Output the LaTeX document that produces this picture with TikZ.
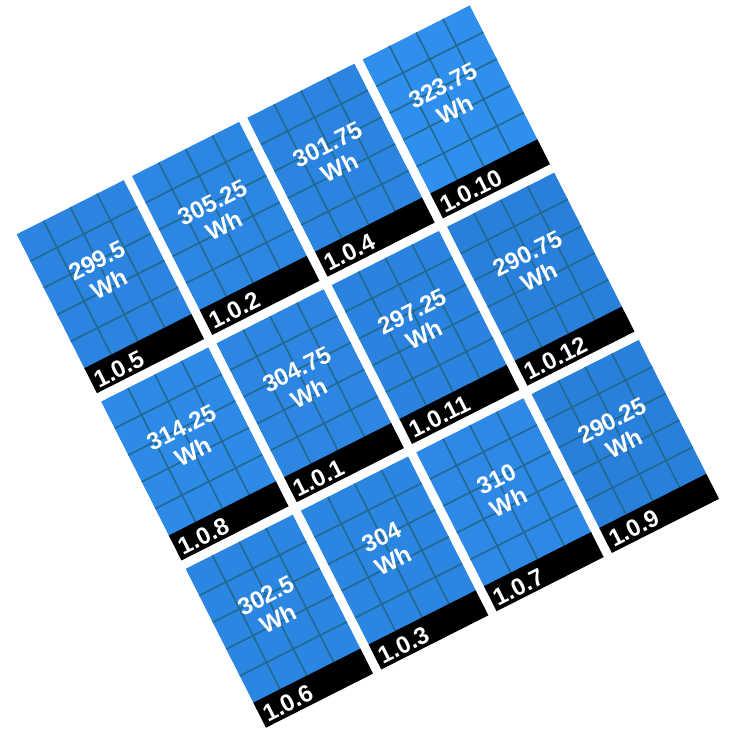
\documentclass[tikz,border=0pt]{standalone}
\usepackage{fontspec}
\setmainfont{Liberation Sans}
\definecolor{pdark}{HTML}{2980DA}
\definecolor{pbright}{HTML}{2F8FEC}
\definecolor{gridc}{HTML}{22698F}
\begin{document}
\begin{tikzpicture}[x=1pt,y=1pt,
  gridline/.style={draw=gridc,line width=1.6pt},
  strip/.style={fill=black},
  valtext/.style={text=white,inner sep=0pt,anchor=center,align=center,font=\fontsize{24}{26.5}\selectfont\bfseries},
  labtext/.style={text=white,inner sep=0pt,anchor=base west,font=\fontsize{24}{26}\selectfont\bfseries}]
\fill[white] (0,0) rectangle (731,730);
\useasboundingbox (0,0) rectangle (731,730);
\begin{scope}[shift={(16.7,495.7)},rotate=26.8,transform shape]
\foreach \c/\r/\val/\lab/\p in {
  0/0/299.5/1.0.5/28, 1/0/305.25/1.0.2/45, 2/0/301.75/1.0.4/35, 3/0/323.75/1.0.10/99,
  0/1/314.25/1.0.8/71, 1/1/304.75/1.0.1/43, 2/1/297.25/1.0.11/21, 3/1/290.75/1.0.12/2,
  0/2/302.5/1.0.6/37, 1/2/304/1.0.3/41, 2/2/310/1.0.7/59, 3/2/290.25/1.0.9/1}{
  \begin{scope}[shift={(\c*129.2,-\r*187.4)}]
    \fill[pbright!\p!pdark] (0,0) rectangle (120,-151);
    \foreach \u in {30,60,90}{\draw[gridline] (\u,0) -- (\u,-150);}
    \foreach \v in {30,60,90,120}{\draw[gridline] (0,-\v) -- (120,-\v);}
    \fill[strip] (0,-150) rectangle (120,-178);
    \node[valtext] (val-\c-\r) at (60,-73) {\val\\Wh};
    \node[labtext] (lab-\c-\r) at (4,-174.5) {\lab};
  \end{scope}
}
\end{scope}
\end{tikzpicture}
\end{document}
